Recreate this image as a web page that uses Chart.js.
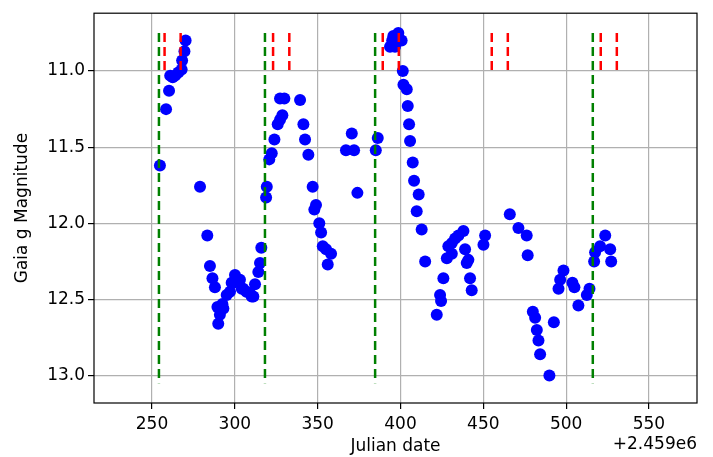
<!DOCTYPE html>
<html>
<head>
<meta charset="utf-8">
<script src="https://cdn.jsdelivr.net/npm/chart.js"></script>
<style>
  html, body { margin: 0; padding: 0; background: #fff; }
  canvas { display: block; }
</style>
</head>
<body>
<canvas id="lightCurve" width="713" height="457"></canvas>
<script>
// Julian date minus 2459000, and Gaia g magnitude for each observation
const jdOffset = [
  254.8, 258.5, 260.3, 261.0, 262.5, 264.0, 265.9, 267.9, 268.2, 269.6, 270.3,
  279.0, 283.4, 285.0, 286.5, 288.0, 289.5, 291.0, 290.0, 292.5, 293.1, 295.1,
  297.1, 298.1, 299.1, 300.1, 301.1, 303.1, 304.2, 305.1, 307.0, 309.2, 310.2,
  311.2, 312.2, 314.2, 315.2, 316.0,
  318.9, 319.3, 320.8, 322.3, 323.9, 325.9, 327.3, 328.7, 327.3, 329.9,
  339.4, 341.4, 342.4, 344.4, 347.0, 348.0, 349.0, 351.0, 352.1, 353.1, 355.1,
  356.1, 358.1, 367.1, 370.6, 372.0, 374.0, 385.1, 386.3,
  393.7, 395.0, 395.7, 396.7, 398.7, 400.7, 401.4, 401.8, 403.8, 404.4, 405.2,
  405.8, 407.4, 408.2, 409.8, 411.0, 412.8, 414.9,
  421.9, 423.9, 424.5, 425.9, 428.0, 428.9, 431.0, 431.0, 433.0, 435.0, 438.0,
  439.0, 440.0, 441.0, 442.0, 443.0, 450.1, 451.1,
  466.0, 471.2, 476.2, 476.8, 479.9, 481.3, 482.3, 483.3, 484.3, 489.9, 492.6,
  495.4, 496.4, 498.4, 503.8, 505.0, 507.4, 512.5, 514.1,
  516.9, 517.5, 520.5, 523.6, 526.6, 527.2
];
const gMag = [
  11.62, 11.25, 11.13, 11.03, 11.04, 11.03, 11.01, 10.99, 10.93, 10.87, 10.80,
  11.76, 12.08, 12.28, 12.36, 12.42, 12.55, 12.60, 12.66, 12.53, 12.56, 12.47,
  12.45, 12.39, 12.39, 12.34, 12.37, 12.37, 12.43, 12.43, 12.45, 12.46, 12.48,
  12.48, 12.40, 12.32, 12.26, 12.16,
  11.83, 11.76, 11.58, 11.54, 11.45, 11.35, 11.32, 11.29, 11.18, 11.18,
  11.19, 11.35, 11.45, 11.55, 11.76, 11.91, 11.88, 12.00, 12.06, 12.15, 12.17,
  12.27, 12.20, 11.52, 11.41, 11.52, 11.80, 11.52, 11.44,
  10.84, 10.80, 10.77, 10.84, 10.75, 10.80, 11.00, 11.09, 11.12, 11.23, 11.35,
  11.46, 11.60, 11.72, 11.92, 11.81, 12.04, 12.25,
  12.60, 12.47, 12.51, 12.36, 12.23, 12.15, 12.13, 12.20, 12.10, 12.08, 12.05,
  12.17, 12.26, 12.24, 12.36, 12.44, 12.14, 12.08,
  11.94, 12.03, 12.08, 12.21, 12.58, 12.62, 12.70, 12.77, 12.86, 13.00, 12.65,
  12.43, 12.37, 12.31, 12.39, 12.42, 12.54, 12.47, 12.43,
  12.25, 12.19, 12.15, 12.08, 12.17, 12.25
];

// Marker lines (Julian date minus 2459000)
const greenLineX = [254.2, 318.2, 384.7, 516.1];
const redLineX = [257.6, 267.3, 323.1, 332.9, 389.3, 399.0, 455.1, 464.8, 520.9, 530.6];
const lineTop = 10.75;
const greenLineBottom = 13.05;
const redLineBottom = 11.0;

const xTicks = [250, 300, 350, 400, 450, 500, 550];
const yTicks = [11.0, 11.5, 12.0, 12.5, 13.0];
const xOffsetLabel = '+2.459e6';

Chart.defaults.font.family = "'DejaVu Sans', sans-serif";
Chart.defaults.font.size = 17;
Chart.defaults.color = '#000';

// Vertical dashed marker line as a two-point dataset
function markerLine(x, yFrom, yTo, color) {
  return {
    data: [{ x: x, y: yFrom }, { x: x, y: yTo }],
    showLine: true,
    borderColor: color,
    borderWidth: 2.5,
    borderDash: [9, 5],
    pointRadius: 0,
    pointHoverRadius: 0,
    order: 1
  };
}

const datasets = [
  {
    data: jdOffset.map((x, i) => ({ x: x, y: gMag[i] })),
    backgroundColor: '#0000ff',
    borderColor: '#0000ff',
    pointRadius: 6,
    pointBorderWidth: 0,
    order: 3
  }
];
greenLineX.forEach(x => datasets.push(markerLine(x, lineTop, greenLineBottom, '#008000')));
redLineX.forEach(x => datasets.push(markerLine(x, lineTop, redLineBottom, '#ff0000')));

// Black box around the plot area, like matplotlib spines
const framePlugin = {
  id: 'frame',
  afterDatasetsDraw(chart) {
    const a = chart.chartArea;
    const ctx = chart.ctx;
    ctx.save();
    ctx.strokeStyle = '#000';
    ctx.lineWidth = 1.2;
    ctx.strokeRect(a.left, a.top, a.right - a.left, a.bottom - a.top);
    ctx.restore();
  }
};

// Offset text under the right end of the x axis
const offsetTextPlugin = {
  id: 'offsetText',
  afterDraw(chart) {
    const ctx = chart.ctx;
    ctx.save();
    ctx.font = "17px 'DejaVu Sans', sans-serif";
    ctx.fillStyle = '#000';
    ctx.textAlign = 'right';
    ctx.textBaseline = 'middle';
    ctx.fillText(xOffsetLabel, chart.chartArea.right, 445);
    ctx.restore();
  }
};

new Chart(document.getElementById('lightCurve'), {
  type: 'scatter',
  data: { datasets: datasets },
  options: {
    responsive: false,
    animation: false,
    devicePixelRatio: 1,
    layout: { padding: { top: 12, right: 16, left: 0, bottom: 0 } },
    plugins: {
      legend: { display: false },
      tooltip: { enabled: false }
    },
    scales: {
      x: {
        type: 'linear',
        min: 215,
        max: 579,
        afterBuildTicks: s => { s.ticks = xTicks.map(v => ({ value: v })); },
        afterFit: s => { s.height = 54; },
        grid: { color: '#b0b0b0', lineWidth: 1.2, tickLength: 6, tickColor: '#000', tickWidth: 1.2 },
        border: { display: false },
        ticks: { padding: 5, maxRotation: 0, autoSkip: false, callback: v => String(v) },
        title: { display: true, text: 'Julian date', padding: { top: 0, bottom: 0 } }
      },
      y: {
        type: 'linear',
        reverse: true,
        min: 10.62,
        max: 13.18,
        afterBuildTicks: s => { s.ticks = yTicks.map(v => ({ value: v })); },
        afterFit: s => { s.width = 94; },
        grid: { color: '#b0b0b0', lineWidth: 1.2, tickLength: 6, tickColor: '#000', tickWidth: 1.2 },
        border: { display: false },
        ticks: { padding: 3, autoSkip: false, callback: v => Number(v).toFixed(1) },
        title: { display: true, text: 'Gaia g Magnitude', padding: { top: 12, bottom: 0 } }
      }
    }
  },
  plugins: [framePlugin, offsetTextPlugin]
});
</script>
</body>
</html>
